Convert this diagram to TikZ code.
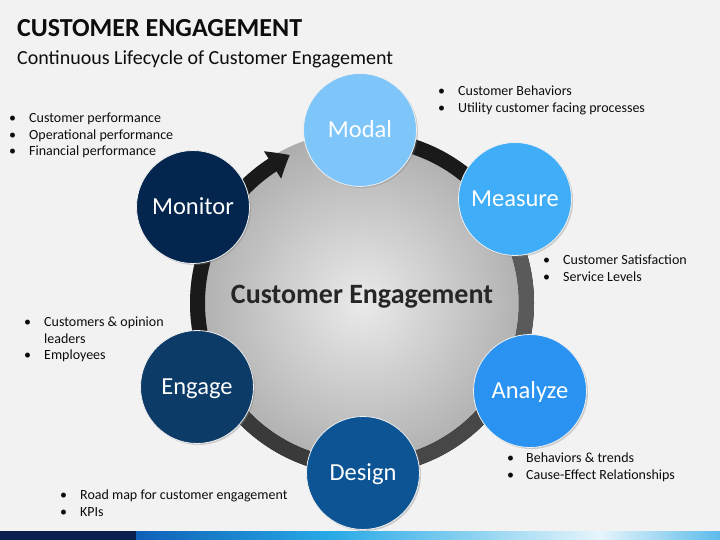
\documentclass[tikz,border=0pt]{standalone}
\usepackage{fontspec}
\setmainfont{Carlito}
\usetikzlibrary{arrows.meta,bending,shadows,calc}
\definecolor{bg}{HTML}{F2F2F2}
\definecolor{txt}{HTML}{0D0D0D}
\definecolor{ctext}{HTML}{262626}
\definecolor{discin}{HTML}{EAEAEA}
\definecolor{discout}{HTML}{ADADAD}
\definecolor{bandA}{HTML}{1A1A1A}
\definecolor{bandB}{HTML}{5A5A5A}
\definecolor{bandC}{HTML}{474747}
\definecolor{bandD}{HTML}{3A3A3A}
\definecolor{cModal}{HTML}{7EC6FA}
\definecolor{cMeasure}{HTML}{3FADF7}
\definecolor{cAnalyze}{HTML}{2A92F0}
\definecolor{cDesign}{HTML}{0C5494}
\definecolor{cEngage}{HTML}{0B3B66}
\definecolor{cMonitor}{HTML}{03254E}
\definecolor{sNavy}{HTML}{0B1F4E}
\definecolor{sBlue}{HTML}{0F60B7}
\definecolor{sCyan}{HTML}{27AAE6}
\definecolor{sPale}{HTML}{E6F5FB}
\definecolor{sEnd}{HTML}{5DBBEB}
\begin{document}
\begin{tikzpicture}[x=1pt,y=-1pt,
  sat/.style={circle, minimum size=113pt, inner sep=0pt, text=white,
    font=\fontsize{24.5}{28}\selectfont, text height=15.5pt, text depth=0pt,
    draw=white!88!gray, line width=0.8pt,
    drop shadow={opacity=0.35, shadow xshift=1.5pt, shadow yshift=-1.5pt}},
  item/.style={anchor=base west, inner sep=0pt, text=txt, font=\fontsize{14}{16}\selectfont},
  band/.style={line width=15pt},
]
\useasboundingbox (0,0) rectangle (720,540);
\fill[bg] (0,0) rectangle (720,540);
% bottom stripe
\fill[sNavy] (0,531) rectangle (136,540);
\shade[left color=sBlue, right color=sCyan] (136,531) rectangle (330,540);
\shade[left color=sCyan, right color=sPale] (329.5,531) rectangle (600,540);
\shade[left color=sPale, right color=sEnd] (599.5,531) rectangle (720,540);
% titles
\node[anchor=base west, inner sep=0pt, text=txt, font=\bfseries\fontsize{26}{30}\selectfont] (title) at (17,37) {CUSTOMER ENGAGEMENT};
\node[anchor=base west, inner sep=0pt, text=txt, font=\fontsize{20}{24}\selectfont] (subtitle) at (17,65) {Continuous Lifecycle of Customer Engagement};
% central disc
\node[circle, minimum size=344pt, inner sep=0pt, inner color=discin, outer color=discout] (disc) at (362,303) {};
% ring band with arrow
\draw[band, draw=bandA, -{Triangle[length=20pt,width=31pt,bend]}] ($(disc.center)+(-90:164.5)$) arc[start angle=-90, end angle=244, radius=164.5];
\draw[band, draw=bandB] ($(disc.center)+(-22:164.5)$) arc[start angle=-22, end angle=40, radius=164.5];
\draw[band, draw=bandC] ($(disc.center)+(40:164.5)$) arc[start angle=40, end angle=100, radius=164.5];
\draw[band, draw=bandD] ($(disc.center)+(100:164.5)$) arc[start angle=100, end angle=160, radius=164.5];
\node[anchor=base, inner sep=0pt, text=ctext, font=\bfseries\fontsize{28}{30}\selectfont] (ce) at (362,303) {Customer Engagement};
% satellites
\node[sat, fill=cModal] (modal) at (360,130) {Modal};
\node[sat, fill=cMeasure] (measure) at (515,199) {Measure};
\node[sat, fill=cAnalyze] (analyze) at (530,391) {Analyze};
\node[sat, fill=cDesign] (design) at (363,473) {Design};
\node[sat, fill=cEngage] (engage) at (197,387) {Engage};
\node[sat, fill=cMonitor] (monitor) at (193,207) {Monitor};
% bullet lists
\node[item] (b1a) at (9,123) {•};
\node[item] (t1a) at (29,123) {Customer performance};
\node[item] (b1b) at (9,139.5) {•};
\node[item] (t1b) at (29,139.5) {Operational performance};
\node[item] (b1c) at (9,156) {•};
\node[item] (t1c) at (29,156) {Financial performance};
\node[item] (b2a) at (438,96) {•};
\node[item] (t2a) at (458,96) {Customer Behaviors};
\node[item] (b2b) at (438,113) {•};
\node[item] (t2b) at (458,113) {Utility customer facing processes};
\node[item] (b3a) at (543,264) {•};
\node[item] (t3a) at (563,264) {Customer Satisfaction};
\node[item] (b3b) at (543,281) {•};
\node[item] (t3b) at (563,281) {Service Levels};
\node[item] (b4a) at (24,326) {•};
\node[item] (t4a) at (44,326) {Customers \& opinion};
\node[item] (t4b) at (44,343) {leaders};
\node[item] (b4c) at (24,359.5) {•};
\node[item] (t4c) at (44,359.5) {Employees};
\node[item] (b5a) at (507,462) {•};
\node[item] (t5a) at (526,462) {Behaviors \& trends};
\node[item] (b5b) at (507,479) {•};
\node[item] (t5b) at (526,479) {Cause-Effect Relationships};
\node[item] (b6a) at (60,499) {•};
\node[item] (t6a) at (80,499) {Road map for customer engagement};
\node[item] (b6b) at (60,516) {•};
\node[item] (t6b) at (80,516) {KPIs};
\end{tikzpicture}
\end{document}
